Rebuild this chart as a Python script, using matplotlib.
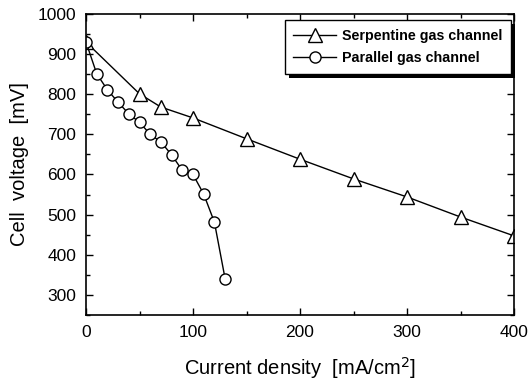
import matplotlib
matplotlib.use("Agg")
import matplotlib.pyplot as plt
from matplotlib.ticker import MultipleLocator
from matplotlib.patches import Rectangle
from matplotlib.transforms import IdentityTransform

plt.rcParams['font.family'] = ['Liberation Sans', 'DejaVu Sans']

serp_x = [0, 50, 70, 100, 150, 200, 250, 300, 350, 400]
serp_y = [930, 801, 768, 741, 689, 638, 589, 544, 494, 447]
par_x = [0, 10, 20, 30, 40, 50, 60, 70, 80, 90, 100, 110, 120, 130]
par_y = [930, 851, 811, 780, 751, 730, 700, 681, 649, 610, 600, 551, 481, 340]

fig = plt.figure(figsize=(5.31, 3.84), dpi=100)
ax = fig.add_axes([0.162, 0.180, 0.806, 0.7835])

ax.plot(serp_x, serp_y, color='black', lw=1.0, marker='^', ms=9.5,
        mfc='white', mec='black', mew=1.0, label='Serpentine gas channel')
ax.plot(par_x, par_y, color='black', lw=1.0, marker='o', ms=8,
        mfc='white', mec='black', mew=1.0, label='Parallel gas channel')

ax.set_xlim(0, 400)
ax.set_ylim(250, 1000)
ax.xaxis.set_major_locator(MultipleLocator(100))
ax.xaxis.set_minor_locator(MultipleLocator(50))
ax.yaxis.set_major_locator(MultipleLocator(100))
ax.yaxis.set_minor_locator(MultipleLocator(50))
ax.tick_params(which='both', direction='in', top=True, right=True, width=1.0)
ax.tick_params(which='major', length=5, labelsize=12.5, pad=7)
ax.tick_params(which='minor', length=3)
for s in ax.spines.values():
    s.set_linewidth(1.2)

ax.set_yticks([300, 400, 500, 600, 700, 800, 900, 1000])
ax.set_xlabel('Current density  [mA/cm$^2$]', fontsize=14.5, labelpad=11)
ax.set_ylabel('Cell  voltage  [mV]', fontsize=14.5, labelpad=6)

leg = ax.legend(loc='upper right', bbox_to_anchor=(0.993, 0.980), borderaxespad=0,
                fancybox=False, shadow=False, framealpha=1,
                edgecolor='black', handlelength=3.0, handletextpad=0.4,
                borderpad=0.6, labelspacing=0.6,
                prop={'weight': 'bold', 'size': 10.3})
leg.get_frame().set_linewidth(1.0)
leg.set_zorder(5)

fig.canvas.draw()
bb = leg.get_window_extent()
off = 4
shadow = Rectangle((bb.x0 + off, bb.y0 - off), bb.width, bb.height,
                   transform=IdentityTransform(), facecolor='black',
                   edgecolor='none', zorder=4.9, clip_on=False)
ax.add_patch(shadow)

fig.savefig('out.png', dpi=100)
